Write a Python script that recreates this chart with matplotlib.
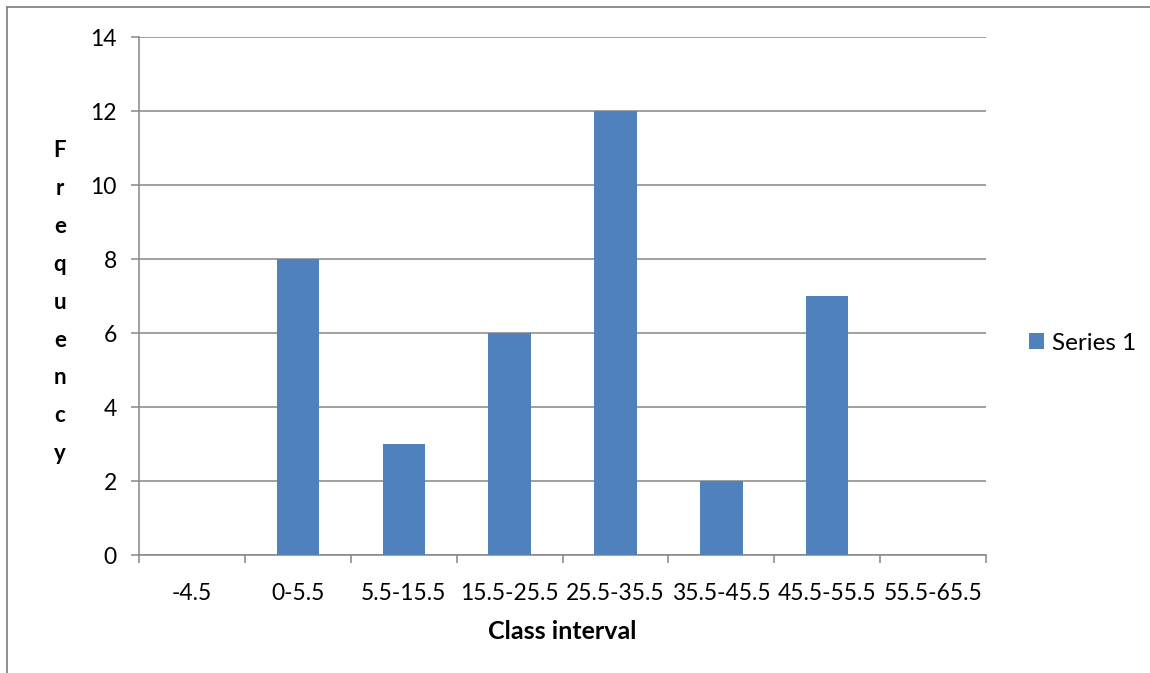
import matplotlib
matplotlib.use("Agg")
import matplotlib.pyplot as plt
from matplotlib.lines import Line2D
import numpy as np

plt.rcParams['font.family'] = ['Lato', 'DejaVu Sans']

# data
classes = ["-4.5", "0-5.5", "5.5-15.5", "15.5-25.5", "25.5-35.5",
           "35.5-45.5", "45.5-55.5", "55.5-65.5"]
freq = [0, 8, 3, 6, 12, 2, 7, 0]
series_name = "Series 1"

bar_col = "#4F81BD"
grey = "#868686"

fig = plt.figure(figsize=(11.5, 6.73), dpi=100)
ax = fig.add_axes([0.1209, 0.1753, 0.7365, 0.7697])

x = np.arange(len(classes))
ax.bar(x, freq, width=0.4, color=bar_col, label=series_name, zorder=3)

ax.set_xlim(-0.5, len(classes) - 0.5)
ax.set_ylim(0, 14)
ax.set_yticks(range(0, 15, 2))
ax.set_xticks(x)
ax.set_xticklabels(classes)
ax.set_xticks(np.arange(-0.5, len(classes), 1), minor=True)

ax.grid(axis='y', color=grey, linewidth=1.1, zorder=0)
for s in ['top', 'right']:
    ax.spines[s].set_visible(False)
for s in ['left', 'bottom']:
    ax.spines[s].set_color(grey)
    ax.spines[s].set_linewidth(1.1)

ax.tick_params(axis='y', length=6, width=1.1, color=grey, labelsize=16.5, pad=10)
ax.tick_params(axis='x', which='major', length=0, labelsize=16.5, pad=20)
ax.tick_params(axis='x', which='minor', length=6, width=1.1, color=grey)

# y label, one letter per line
fig.text(0.052, 0.551, "\n".join("Frequency"), ha='center', va='center',
         fontsize=16, fontweight='bold', linespacing=1.99)
fig.text(0.489, 0.061, "Class interval", ha='center', va='center',
         fontsize=18, fontweight='bold')

ax.legend(loc='center left', bbox_to_anchor=(0.876, 0.49), bbox_transform=fig.transFigure,
          frameon=False, fontsize=17.5, handlelength=0.6, handleheight=0.6,
          handletextpad=0.35)

# outer frame (partial)
fig.add_artist(Line2D([0.006, 1.0], [0.99, 0.99], color=grey, linewidth=1.3,
                      transform=fig.transFigure))
fig.add_artist(Line2D([0.006, 0.006], [0.0, 0.99], color=grey, linewidth=1.3,
                      transform=fig.transFigure))

fig.savefig("out.png", dpi=100)
